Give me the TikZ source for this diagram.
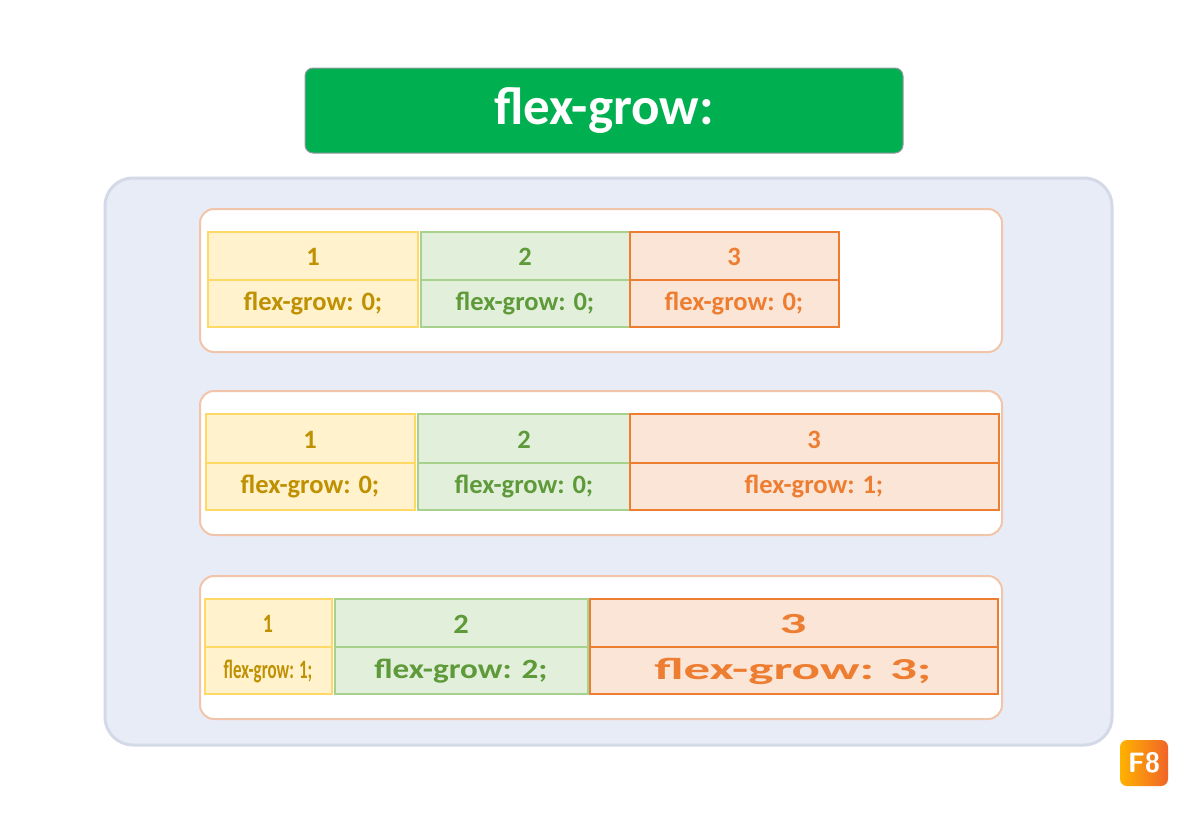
\documentclass[tikz,border=0pt]{standalone}
\usepackage{fontspec}
\setmainfont{Carlito}
\usetikzlibrary{positioning}
\definecolor{titlegreen}{HTML}{00B050}
\definecolor{outerfill}{HTML}{E8ECF7}
\definecolor{outerline}{HTML}{D3D9E6}
\definecolor{panelline}{HTML}{F2C4AA}
\definecolor{yfill}{HTML}{FFF2CC}
\definecolor{yline}{HTML}{FFD966}
\definecolor{ytext}{HTML}{BF9000}
\definecolor{gfill}{HTML}{E2EFDA}
\definecolor{gline}{HTML}{A9D18E}
\definecolor{gtext}{HTML}{5E9A3A}
\definecolor{ofill}{HTML}{FBE5D6}
\definecolor{oline}{HTML}{ED7D31}
\definecolor{otext}{HTML}{ED7D31}
\tikzset{
  panel/.style={draw=panelline,line width=2pt,fill=white,rounded corners=14pt},
  ycell/.style={draw=yline,fill=yfill,line width=1.3pt},
  gcell/.style={draw=gline,fill=gfill,line width=1.3pt},
  ocell/.style={draw=oline,fill=ofill,line width=1.3pt},
  lbl/.style={font=\fontsize{26.5}{28}\selectfont\bfseries}
}
% a box with its number on top and its rule below
\newcommand{\flexcell}[6]{% style, x1, x2, y1, ymid, y2
  \draw[#1] (#2,#4) rectangle (#3,#5);
  \draw[#1] (#2,#5) rectangle (#3,#6);
}
\begin{document}
\begin{tikzpicture}[x=1pt,y=-1pt]
\useasboundingbox (0,0) rectangle (1200,819);
\fill[white] (0,0) rectangle (1200,819);
% title
\node[draw=outerline!70!black,fill=titlegreen,rounded corners=8pt,line width=1pt,
  minimum width=598pt,minimum height=85pt,text=white,
  font=\fontsize{53}{58}\selectfont\bfseries] (title) at (604,110.5) {flex-grow:};
% container
\draw[draw=outerline,fill=outerfill,line width=3pt,rounded corners=28pt]
  (105,178) rectangle (1112,745);
\draw[panel] (200,209) rectangle (1002,352);
\draw[panel] (200,391) rectangle (1002,535);
\draw[panel] (200,576) rectangle (1002,719);
% row 1
\flexcell{ycell}{208}{418}{232}{280}{327}
\flexcell{gcell}{421}{630}{232}{280}{327}
\flexcell{ocell}{630}{839}{232}{280}{327}
\node[lbl,text=ytext] (a1) at (313,257) {1};
\node[lbl,text=ytext] (a1r) at (313,304) {flex-grow: 0;};
\node[lbl,text=gtext] (b1) at (525,257) {2};
\node[lbl,text=gtext] (b1r) at (525,304) {flex-grow: 0;};
\node[lbl,text=otext] (c1) at (734,257) {3};
\node[lbl,text=otext] (c1r) at (734,304) {flex-grow: 0;};
% row 2
\flexcell{ycell}{206}{415}{414}{463}{510}
\flexcell{gcell}{418}{630}{414}{463}{510}
\flexcell{ocell}{630}{999}{414}{463}{510}
\node[lbl,text=ytext] (a2) at (310,440) {1};
\node[lbl,text=ytext] (a2r) at (310,487) {flex-grow: 0;};
\node[lbl,text=gtext] (b2) at (524,440) {2};
\node[lbl,text=gtext] (b2r) at (524,487) {flex-grow: 0;};
\node[lbl,text=otext] (c2) at (814,440) {3};
\node[lbl,text=otext] (c2r) at (814,487) {flex-grow: 1;};
% row 3
\flexcell{ycell}{205}{332}{599}{647}{694}
\flexcell{gcell}{335}{588}{599}{647}{694}
\flexcell{ocell,line width=2.2pt}{590}{998}{599}{647}{694}
\node[lbl,text=ytext] (a3) at (268,624) {\scalebox{0.75}[1]{1}};
\node[lbl,text=ytext] (a3r) at (268,671) {\scalebox{0.64}[1]{flex-grow: 1;}};
\node[lbl,text=gtext] (b3) at (461,624) {\scalebox{1.15}[1.05]{2}};
\node[lbl,text=gtext] (b3r) at (461,671) {\scalebox{1.25}[1.05]{flex-grow: 2;}};
\node[lbl,text=otext] (c3) at (793,624) {\scalebox{2}[1.1]{3}};
\node[lbl,text=otext] (c3r) at (793,671) {\scalebox{2}[1.15]{flex-grow: 3;}};
% logo
\shade[left color=orange!60!yellow,right color=oline!80!red,rounded corners=7pt]
  (1120,740) rectangle (1168,786);
\node[text=white,font=\fontsize{28}{30}\selectfont\bfseries\sffamily] (logo) at (1144,763) {F8};
\end{tikzpicture}
\end{document}
